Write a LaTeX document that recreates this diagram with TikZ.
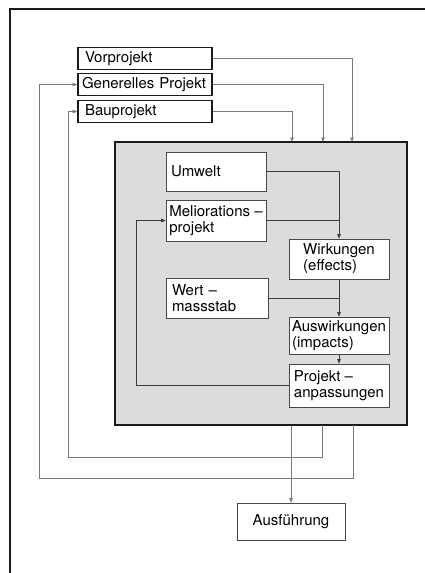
\documentclass[tikz,border=0pt]{standalone}
\usepackage{fontspec}
\setmainfont{TeX Gyre Heros}
\usetikzlibrary{arrows.meta,positioning,calc}
\definecolor{fbInk}{HTML}{1A1A1A}
\definecolor{fbLine}{HTML}{7A7A7A}
\definecolor{fbShade}{HTML}{DCDCDC}
\tikzset{
  plan box/.style={draw=fbInk,line width=1.6pt,fill=white,minimum width=134pt,minimum height=22pt,
    text width=126pt,inner xsep=4pt,inner ysep=0pt,align=left,font=\fontsize{15}{16}\selectfont},
  core box/.style={draw=fbInk,line width=2.2pt,fill=fbShade,minimum width=292pt,minimum height=283pt,inner sep=0pt},
  stage box/.style={draw=fbInk!80,line width=0.6pt,fill=white,inner sep=1.5pt,align=left,
    font=\fontsize{15}{16}\selectfont},
  flow arrow/.style={-{Triangle[length=4.5pt,width=3.5pt]},line width=0.6pt,draw=fbLine},
  flow line/.style={line width=0.6pt,draw=fbLine},
  inner arrow/.style={flow arrow,draw=fbInk!85},
  inner line/.style={flow line,draw=fbInk!85}
}
\begin{document}
\begin{tikzpicture}[x=1pt,y=-1pt]
\useasboundingbox (0,0) rectangle (425,573);
\draw[fbInk,line width=1.2pt] (10,573) -- (10,9) -- (425,9);
\node[plan box] (vor) at (145,58.5) {\hspace*{3pt}Vorprojekt};
\node[plan box] (gen) at (145,84.5) {Generelles Projekt};
\node[plan box] (bau) at (145,111.5) {\hspace*{3pt}Bauprojekt};
\node[core box] (core) at (261,283.5) {};
\node[stage box,minimum width=100pt,minimum height=39pt,text width=90pt] (umwelt) at (216,171.5) {Umwelt};
\node[stage box,minimum width=100pt,minimum height=41pt] (melio) at (216,220.5) {Meliorations --\\projekt};
\node[stage box,minimum width=100pt,minimum height=40pt] (wirk) at (339,259) {Wirkungen\\(effects)};
\node[stage box,minimum width=102pt,minimum height=40pt,text width=90pt] (wert) at (217,298) {Wert --\\massstab};
\node[stage box,minimum width=100pt,minimum height=37pt] (ausw) at (339,335.5) {Auswirkungen\\(impacts)};
\node[stage box,minimum width=100pt,minimum height=43pt] (anpass) at (339,385.5) {Projekt --\\anpassungen};
\node[stage box,minimum width=108pt,minimum height=37pt] (ausf) at (291,521.5) {Ausführung};
\coordinate (vin) at (352,142);
\coordinate (gin) at (323,142);
\coordinate (bin) at (292,142);
\coordinate (gout) at (353,425);
\coordinate (bout) at (322,425);
\coordinate (gret) at (39,478);
\coordinate (bret) at (68,457);
\coordinate (fb) at (136,384);
\draw[flow arrow] (vor.east) -| (vin);
\draw[flow arrow] (gen.east) -| (gin);
\draw[flow arrow] (bau.east) -| (bin);
\draw[inner arrow] (umwelt.east) -| (wirk.north);
\draw[inner line] (melio.east) -- (melio.east -| wirk.north);
\draw[inner arrow] (wirk.south) -- (ausw.north);
\draw[inner line] (wert.east) -- (wert.east -| ausw.north);
\draw[inner arrow] (ausw.south) -- (anpass.north);
\draw[inner arrow] (anpass.west) -- (anpass.west -| fb) |- (melio.west);
\draw[flow arrow] (ausf.north |- core.south) -- (ausf.north);
\draw[flow arrow] (bout) |- (bret) |- (bau.west);
\draw[flow arrow] (gout) |- (gret) |- (gen.west);
\end{tikzpicture}
\end{document}
